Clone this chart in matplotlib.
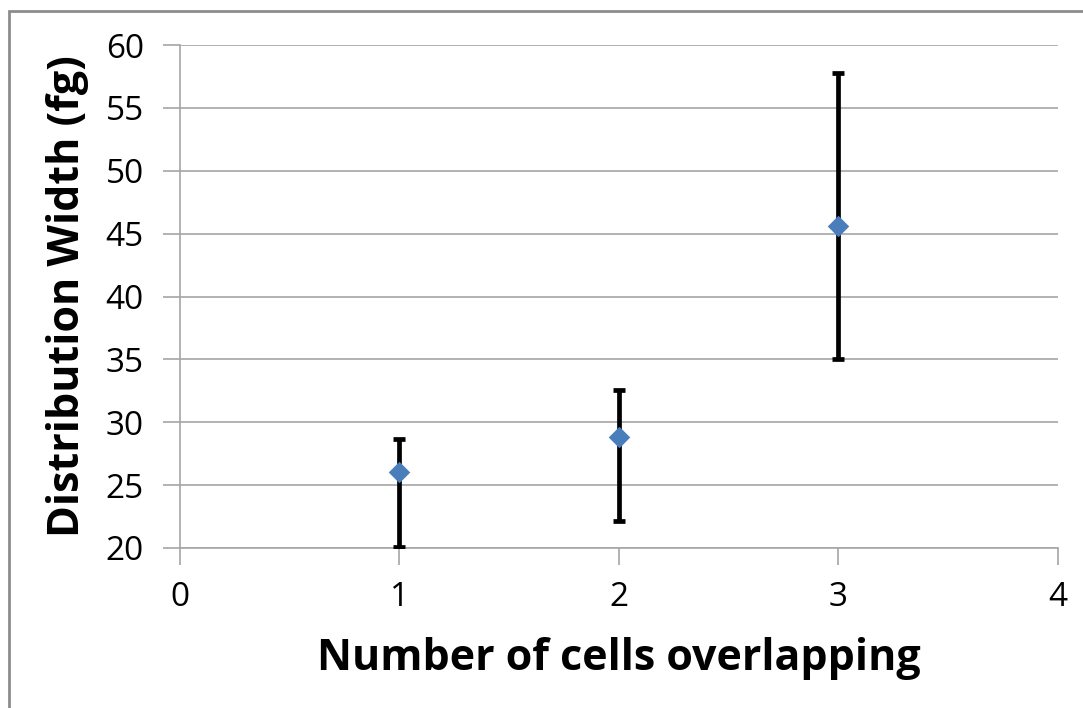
import numpy as np
import matplotlib.pyplot as plt
from matplotlib.patches import Rectangle

plt.rcParams['font.family'] = ['Open Sans', 'DejaVu Sans']

# data
cells = [1, 2, 3]
width = [26.05, 28.85, 45.6]
err_low = [20.1, 22.15, 35.0]
err_high = [28.65, 32.6, 57.75]

x_ticks = [0, 1, 2, 3, 4]
y_ticks = [20, 25, 30, 35, 40, 45, 50, 55, 60]

fig = plt.figure(figsize=(10.83, 7.08), dpi=100)
ax = fig.add_axes([0.1662, 0.2260, 0.8107, 0.7104])

width = np.array(width)
yerr = [width - np.array(err_low), np.array(err_high) - width]

ax.errorbar(cells, width, yerr=yerr, fmt='none', ecolor='black',
            elinewidth=3.4, capsize=4.5, capthick=3.4, zorder=3)
ax.scatter(cells, width, marker='D', s=120, color='#4a7ebb', zorder=4,
           linewidths=0)

ax.set_xlim(0, 4)
ax.set_ylim(20, 60)
ax.set_xticks(x_ticks)
ax.set_yticks(y_ticks)
ax.yaxis.grid(True, color='#a6a6a6', linewidth=1.2)
ax.set_axisbelow(True)

for s in ['top', 'right']:
    ax.spines[s].set_visible(False)
for s in ['left', 'bottom']:
    ax.spines[s].set_color('#a6a6a6')
    ax.spines[s].set_linewidth(1.2)

ax.tick_params(axis='both', which='major', labelsize=24, color='#a6a6a6',
               width=1.2, length=12, direction='out')
ax.tick_params(axis='x', pad=12)
ax.tick_params(axis='y', pad=14)

ax.set_xlabel('Number of cells overlapping', fontsize=31, fontweight='bold',
              labelpad=16)
ax.set_ylabel('Distribution Width (fg)', fontsize=31, fontweight='bold',
              labelpad=12)

# outer chart border (left and top edges visible)
fig.patches.append(Rectangle((9 / 1083, -0.05), 1.1, 1 - 11 / 708 + 0.05,
                             transform=fig.transFigure, fill=False,
                             edgecolor='#8c8c8c', linewidth=2))

fig.savefig('out.png', dpi=100)
